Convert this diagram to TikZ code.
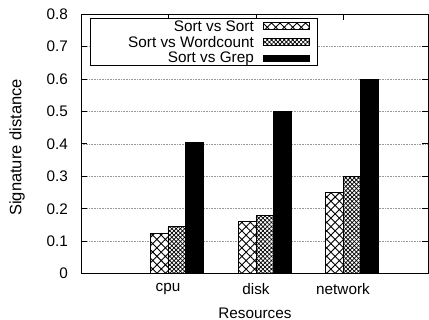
\documentclass[tikz,border=0pt]{standalone}
\usepackage{fontspec}
\setmainfont{Liberation Sans}
\usetikzlibrary{patterns.meta}

\begin{document}
\begin{tikzpicture}
                        [x=1pt,y=1pt,
                        lbl/.style={font=\fontsize{15.3}{18}\selectfont,inner sep=0pt},
                        gridline/.style={gray!80,densely dotted,line width=0.6pt},
                        bar/.style={draw=black,line width=0.8pt},
                        barA/.style={bar,preaction={fill=white},pattern={Hatch[angle=45,distance=6pt,line width=0.9pt]}},
                        barB/.style={bar,preaction={fill=white},pattern={Hatch[angle=45,distance=3pt,line width=0.7pt]}},
                        barC/.style={bar,fill=black}]
                        \useasboundingbox (-81,-46.3) rectangle (348,273.7);
                        % grid and y ticks
                        \foreach \v in {1,...,7}
                        \draw[gridline] (0,{\v*32.45}) -- (347,{\v*32.45});
                        \foreach \v/\t in {0/0,1/0.1,2/0.2,3/0.3,4/0.4,5/0.5,6/0.6,7/0.7,8/0.8}
                        {
                        \node[lbl,anchor=east] (y\v) at (-13,{\v*32.45}) {\t};
                        \draw[line width=0.8pt] (0,{\v*32.45}) -- (6,{\v*32.45});
                        \draw[line width=0.8pt] (347,{\v*32.45}) -- (341,{\v*32.45});
                        }
                        % bars
                        \foreach \c/\name/\a/\b/\g in {87/cpu/0.125/0.145/0.405,175/disk/0.16/0.18/0.50,262/network/0.25/0.30/0.60}
                        {
                        \draw[line width=0.8pt] (\c,259.6) -- (\c,253.6);
                        \draw[barA] (\c-17.6,0) rectangle (\c,{\a*324.5});
                        \draw[barB] (\c,0) rectangle (\c+17.6,{\b*324.5});
                        \draw[barC] (\c+17.6,0) rectangle (\c+35.2,{\g*324.5});
                        \node[lbl] (\name) at (\c,-15.3) {\name};
                        }
                        % frame
                        \draw[line width=0.9pt] (0,0) rectangle (347,259.6);
                        % key
                        \draw[line width=0.8pt,fill=white] (9.3,208.4) rectangle (236.7,255.7);
                        \foreach \y/\s/\t in {247.7/barA/Sort vs Sort,231.7/barB/Sort vs Wordcount,215.4/barC/Sort vs Grep}
                        {
                        \node[lbl,anchor=east] at (173,\y) {\t};
                        \draw[\s] (182.3,\y-3.2) rectangle (228,\y+3.2);
                        }
                        \node[lbl] (xlab) at (174,-39.3) {Resources};
                        \node[lbl,font=\fontsize{16.5}{19}\selectfont,rotate=90] (ylab) at (-64,126.2) {Signature distance};
                    \end{tikzpicture}
\end{document}
